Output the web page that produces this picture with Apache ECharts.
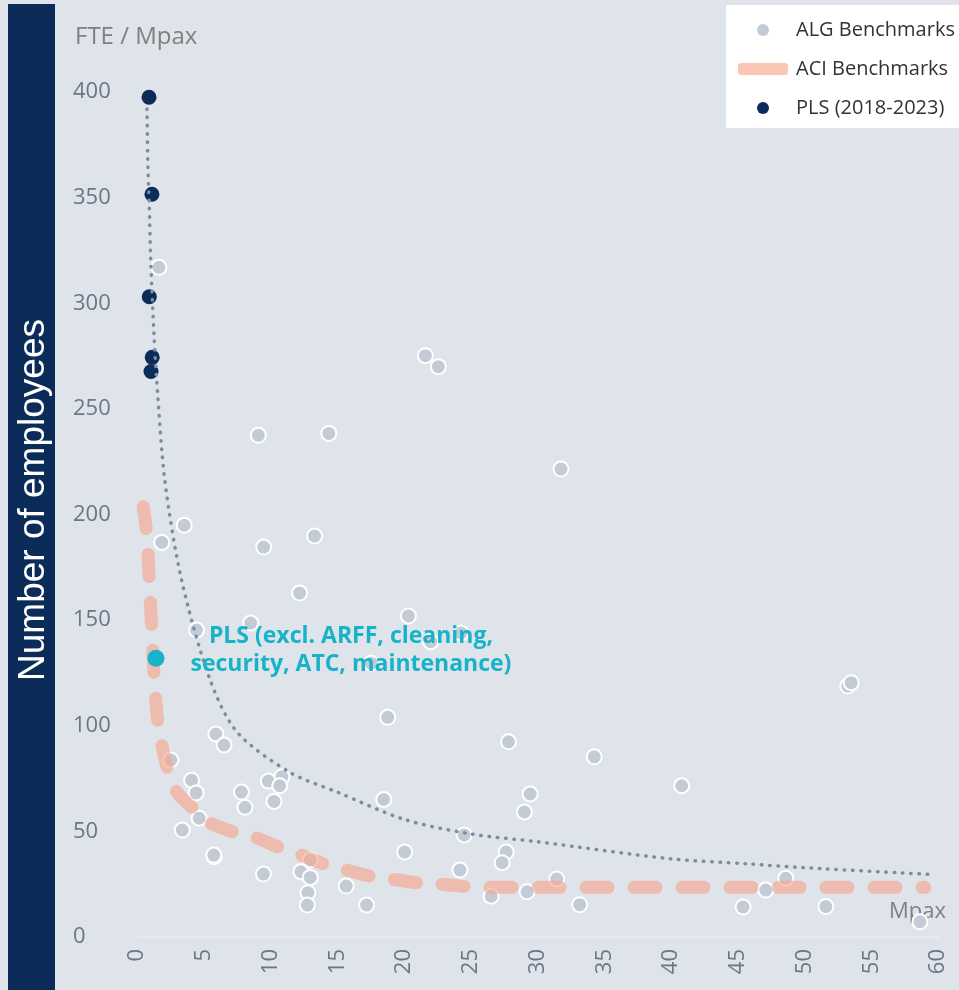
<!DOCTYPE html>
<html>
<head>
<meta charset="utf-8">
<script src="https://cdn.jsdelivr.net/npm/echarts@6/dist/echarts.min.js"></script>
<style>
  html, body { margin: 0; padding: 0; background: #dfe3ea; }
  #chart { width: 959px; height: 990px; }
</style>
</head>
<body>
<div id="chart"></div>
<script>
// Axis ticks
const xTicks = [0, 5, 10, 15, 20, 25, 30, 35, 40, 45, 50, 55, 60];
const yTicks = [0, 50, 100, 150, 200, 250, 300, 350, 400];

// ALG benchmark airports: passengers (Mpax) and FTE per Mpax
const algMpax = [1.64, 1.85, 3.54, 9.09, 14.37, 9.49, 13.3, 21.6, 22.57, 31.76,
  12.18, 8.52, 4.46, 20.33, 22.0, 24.27, 17.54, 18.78, 53.24, 53.5,
  5.91, 6.52, 2.54, 27.83, 34.25, 4.09, 4.43, 7.82, 8.09, 9.84,
  10.86, 10.69, 10.26, 18.48, 40.8, 29.45, 29.02, 4.66, 3.39, 24.51,
  5.78, 5.75, 20.05, 27.65, 27.35, 12.98, 12.28, 12.98, 9.47, 24.19,
  31.44, 48.6, 15.67, 12.8, 29.22, 26.53, 47.1, 12.76, 17.2, 33.16,
  45.4, 51.6, 58.65];
const algFte = [317, 186.8, 194.9, 237.5, 238.4, 184.6, 189.8, 275.2, 270, 221.5,
  162.8, 148.6, 145.3, 152, 139.8, 143.9, 129.6, 104, 118.8, 120.4,
  96.1, 90.9, 83.8, 92.4, 85.3, 74.2, 68.2, 68.6, 61.4, 73.8,
  75.9, 71.6, 64.2, 65.1, 71.6, 67.7, 59.2, 56.2, 50.6, 48.3,
  38, 38.8, 40.2, 40.2, 35.2, 36.4, 30.9, 28.2, 29.8, 31.7,
  27.4, 27.8, 24.1, 21, 21.4, 19.3, 22.2, 15.1, 15.1, 15.3,
  14.2, 14.4, 7.2];

// ACI benchmark curve
const aciMpax = [0.47, 0.72, 0.92, 1.10, 1.29, 1.59, 2.34, 2.99, 4.48, 5.46,
  7.47, 8.97, 10.8, 12.3, 14.2, 15.7, 17.7, 19.2, 21.3, 22.6,
  24.9, 26.4, 30, 40, 50, 59];
const aciFte = [203.7, 191.1, 169, 146.1, 123.2, 100.4, 78.2, 68.6, 59.2, 54,
  49.2, 46.9, 42, 38.8, 34.1, 31.7, 28.5, 27.3, 25.4, 25.1,
  23.7, 23.5, 23.5, 23.5, 23.5, 23.5];

// PLS yearly values 2018-2023
const plsMpax = [0.90, 1.12, 0.92, 1.14, 1.05];
const plsFte = [397.5, 351.6, 303.1, 274.4, 267.7];

// PLS trend curve
const trendMpax = [0.75, 0.82, 0.92, 1.02, 1.12, 1.29, 1.47, 2.09, 3.34, 5.46,
  7.5, 11.43, 15, 20, 25, 30, 40, 45.8, 50, 59.8];
const trendFte = [392, 365, 346, 322, 306, 283, 264, 216, 169, 122,
  97, 78, 68.6, 55.7, 48.8, 45.1, 37, 34.6, 32.8, 29.5];

// PLS excluding outsourced functions
const plsExclMpax = [1.42];
const plsExclFte = [132];

const zip = (xs, ys) => xs.map((x, i) => [x, ys[i]]);

const FONT = '"Open Sans", "Noto Sans", sans-serif';
const TICK_COLOR = '#6b7687';

const chart = echarts.init(document.getElementById('chart'), null, { renderer: 'canvas' });

chart.setOption({
  backgroundColor: '#dfe3ea',
  animation: false,
  grid: { left: 137, right: 21, top: 92, bottom: 53, containLabel: false },
  xAxis: {
    type: 'value',
    min: xTicks[0],
    max: xTicks[xTicks.length - 1],
    interval: xTicks[1] - xTicks[0],
    axisLine: { show: true, lineStyle: { color: '#e8eaee', width: 2 } },
    axisTick: { show: false },
    splitLine: { show: false },
    axisLabel: { rotate: 90, margin: 12, fontSize: 22, color: TICK_COLOR, fontFamily: FONT }
  },
  yAxis: {
    type: 'value',
    min: yTicks[0],
    max: yTicks[yTicks.length - 1],
    interval: yTicks[1] - yTicks[0],
    axisLine: { show: false },
    axisTick: { show: false },
    splitLine: { show: false },
    axisLabel: { align: 'left', margin: 64, fontSize: 22, color: TICK_COLOR, fontFamily: FONT }
  },
  legend: {
    orient: 'vertical',
    left: 726,
    top: 5,
    backgroundColor: '#ffffff',
    padding: [15, 30, 10, 12],
    itemWidth: 50,
    itemHeight: 12,
    itemGap: 19,
    symbolKeepAspect: true,
    textStyle: { fontSize: 20, color: '#333333', fontFamily: FONT, lineHeight: 20, padding: [0, 0, 0, 3] },
    data: [
      { name: 'ALG Benchmarks', icon: 'circle', itemStyle: { color: '#c3ccd6', borderWidth: 0, opacity: 1 } },
      { name: 'ACI Benchmarks', icon: 'roundRect', itemStyle: { color: '#f9c6b6', borderWidth: 0, opacity: 1 } },
      { name: 'PLS (2018-2023)', icon: 'circle', itemStyle: { color: '#0b2c59', borderWidth: 0, opacity: 1 } }
    ]
  },
  graphic: [
    {
      type: 'rect', left: 8, top: 4, z: 0,
      shape: { width: 47, height: 986 },
      style: { fill: '#0b2c59' }
    },
    {
      type: 'text', x: 34, y: 500, rotation: Math.PI / 2, z: 1,
      style: {
        text: 'Number of employees', fill: '#ffffff',
        font: '37px "Liberation Sans", Arial, sans-serif',
        align: 'center', verticalAlign: 'middle'
      }
    },
    {
      type: 'text', x: 75, y: 37,
      style: { text: 'FTE / Mpax', fill: '#808080', font: '24px ' + FONT, verticalAlign: 'middle' }
    },
    {
      type: 'text', x: 889, y: 912,
      style: { text: 'Mpax', fill: '#808080', font: '22px ' + FONT, verticalAlign: 'middle' }
    }
  ],
  series: [
    {
      name: 'ALG Benchmarks',
      type: 'scatter',
      z: 2,
      data: zip(algMpax, algFte),
      symbol: 'circle',
      symbolSize: 15,
      itemStyle: { color: '#c3ccd6', borderColor: '#ffffff', borderWidth: 2, opacity: 1 }
    },
    {
      name: 'ACI Benchmarks',
      type: 'line',
      z: 3,
      data: zip(aciMpax, aciFte),
      smooth: 0.3,
      showSymbol: false,
      symbol: 'none',
      lineStyle: { color: '#f6a88f', opacity: 0.65, width: 13, type: [22, 26], cap: 'round', join: 'round' },
      itemStyle: { color: '#f9c6b6' }
    },
    {
      name: 'PLS (2018-2023)',
      type: 'scatter',
      z: 4,
      data: zip(plsMpax, plsFte),
      symbol: 'circle',
      symbolSize: 15,
      itemStyle: { color: '#0b2c59', opacity: 1 }
    },
    {
      name: 'PLS trend',
      type: 'line',
      z: 5,
      data: zip(trendMpax, trendFte),
      smooth: 0.3,
      showSymbol: false,
      symbol: 'none',
      lineStyle: { color: '#7a8ea3', width: 3.5, type: [0.5, 7.8], cap: 'round' }
    },
    {
      name: 'PLS excl.',
      type: 'scatter',
      z: 6,
      data: zip(plsExclMpax, plsExclFte),
      symbol: 'circle',
      symbolSize: 17,
      itemStyle: { color: '#17b3c8', opacity: 1 },
      label: {
        show: true,
        formatter: 'PLS (excl. ARFF, cleaning,\nsecurity, ATC, maintenance)',
        position: [203.5, 0.5],
        align: 'center',
        verticalAlign: 'middle',
        color: '#17b3c8',
        fontFamily: FONT,
        fontWeight: 'bold',
        fontSize: 23,
        lineHeight: 28
      }
    }
  ]
});
</script>
</body>
</html>
